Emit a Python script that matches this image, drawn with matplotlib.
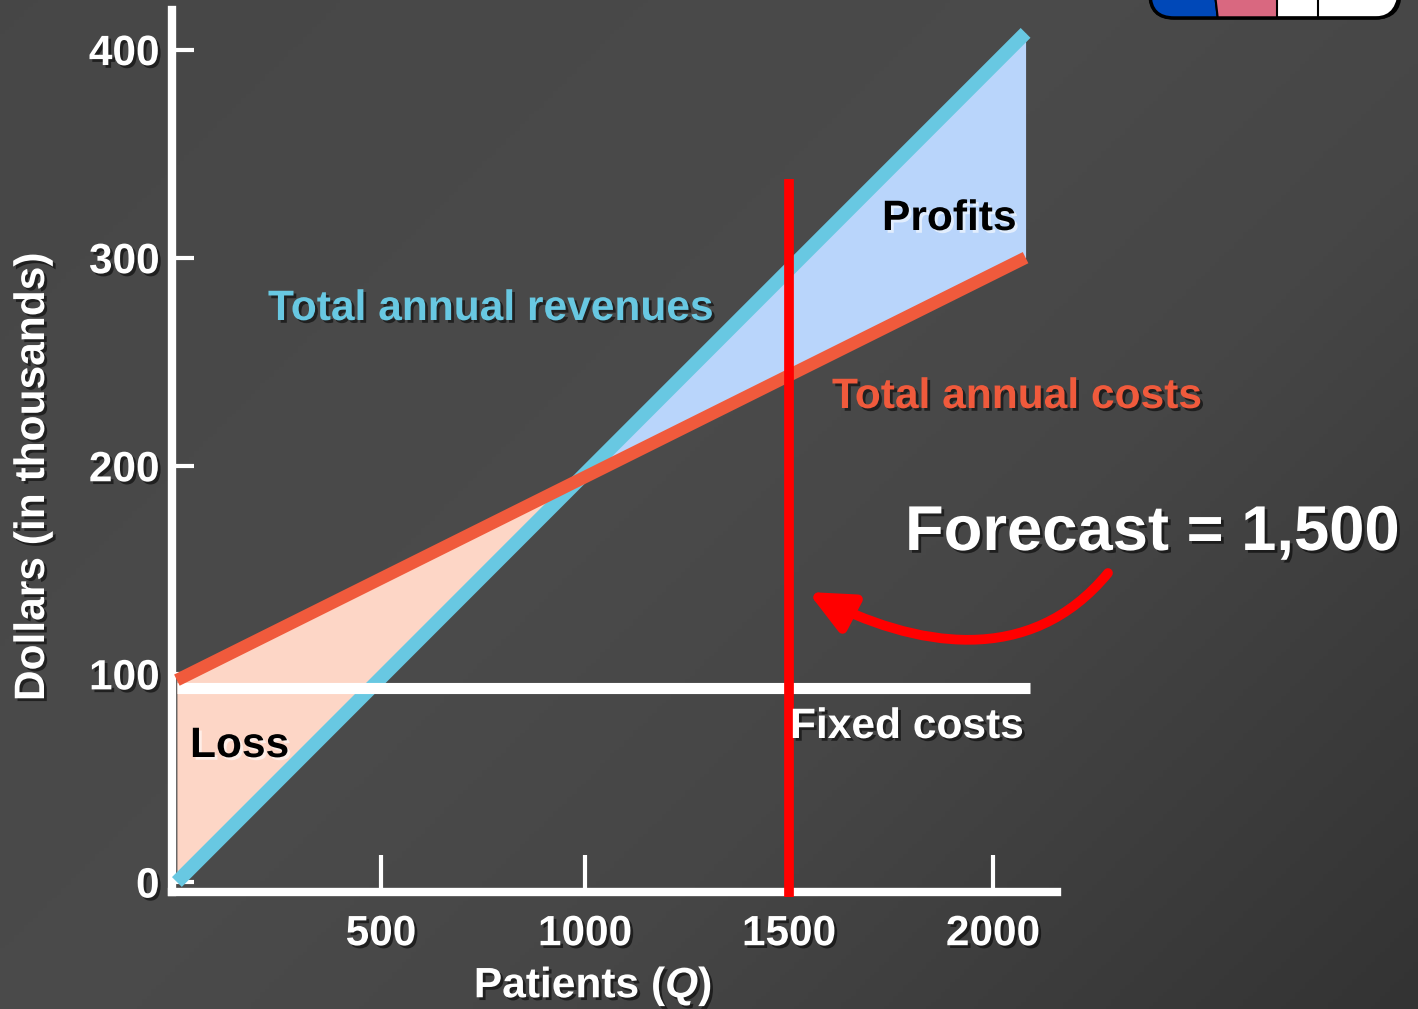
import numpy as np
import matplotlib
matplotlib.use('Agg')
import matplotlib.pyplot as plt
from matplotlib import patheffects as pe
from matplotlib.path import Path
from matplotlib.patches import FancyArrowPatch, FancyBboxPatch, Polygon
from matplotlib.transforms import Affine2D

# ---------------- data ----------------
patients_ticks = [500, 1000, 1500, 2000]
dollar_ticks = [0, 100, 200, 300, 400]
q_range = [0, 2080]          # patients
revenue = [0, 408]           # total annual revenues (thousands)
costs = [97, 300]            # total annual costs (thousands)
fixed_costs = 93             # fixed costs (thousands)
fixed_q_range = [0, 2090]
forecast = 1500
forecast_line = [-7, 338]

REV = '#68C8E2'
COST = '#F05A3C'
LOSS = '#FDD6C6'
PROFIT = '#B9D5FB'

plt.rcParams['font.family'] = ['Liberation Sans', 'DejaVu Sans']
plt.rcParams['font.weight'] = 'bold'
plt.rcParams['mathtext.fontset'] = 'custom'
plt.rcParams['mathtext.it'] = 'Liberation Sans:bold:italic'
plt.rcParams['mathtext.rm'] = 'Liberation Sans:bold'
plt.rcParams['mathtext.bf'] = 'Liberation Sans:bold'

W, H = 1418, 1009
fig = plt.figure(figsize=(W / 100, H / 100), dpi=100)
pix = Affine2D().scale(1 / W, -1 / H).translate(0, 1) + fig.transFigure

# background gradient (diagonal, dark toward bottom-right)
bg = fig.add_axes([0, 0, 1, 1], zorder=-10)
yy, xx = np.mgrid[0:H:300j, 0:W:300j]
d = (xx + yy) / (W + H)
val = np.interp(d, [0, 0.45, 0.65, 1.0], [0.278, 0.292, 0.275, 0.200])
bg.imshow(np.dstack([val, val, val]), aspect='auto', extent=[0, 1, 0, 1], origin='upper')
bg.set_axis_off()

shadow = [pe.withSimplePatchShadow(offset=(2, -2), shadow_rgbFace='black', alpha=0.55)]
light_shadow = [pe.withSimplePatchShadow(offset=(2, -2), shadow_rgbFace='white', alpha=0.6)]

# main axes
ax = fig.add_axes([172 / W, 1 - 892 / H, (1057 - 172) / W, (892 - 10) / H])
ax.set_xlim(-12, 2157)
ax.set_ylim(-4.8, 419)
ax.set_facecolor('none')
for s in ['top', 'right']:
    ax.spines[s].set_visible(False)
for s in ['left', 'bottom']:
    ax.spines[s].set_color('white')
    ax.spines[s].set_linewidth(6)
    ax.spines[s].set_capstyle('projecting')
ax.set_xticks(patients_ticks)
ax.set_yticks(dollar_ticks)
ax.tick_params(axis='x', direction='in', length=27, width=3, color='white',
               labelcolor='white', labelsize=30.5, pad=16)
ax.tick_params(axis='y', direction='in', length=16, width=3, color='white',
               labelcolor='white', labelsize=30.5, pad=9)
for lbl in ax.get_xticklabels() + ax.get_yticklabels():
    lbl.set_fontweight('bold')
    lbl.set_path_effects(shadow)

# fills
slope_r = (revenue[1] - revenue[0]) / (q_range[1] - q_range[0])
slope_c = (costs[1] - costs[0]) / (q_range[1] - q_range[0])
be = (costs[0] - revenue[0]) / (slope_r - slope_c)
qq = np.array([q_range[0], be, q_range[1]])
rq = np.interp(qq, q_range, revenue)
cq = np.interp(qq, q_range, costs)
ax.fill_between(qq, rq, cq, where=cq >= rq - 1e-9, interpolate=True, color=LOSS, lw=0, zorder=1)
ax.fill_between(qq, rq, cq, where=rq >= cq - 1e-9, interpolate=True, color=PROFIT, lw=0, zorder=1)

# lines
ax.plot(q_range, revenue, color=REV, lw=10, solid_capstyle='butt', zorder=4)
ax.plot(fixed_q_range, [fixed_costs, fixed_costs], color='white', lw=8,
        solid_capstyle='butt', zorder=4.2)
ax.plot(q_range, costs, color=COST, lw=9, solid_capstyle='butt', zorder=4.5)
ax.plot([forecast, forecast], forecast_line, color='#FF0000', lw=7,
        solid_capstyle='butt', zorder=6, clip_on=False)

# labels
def label(x, y, s, color, size=30.6, fx=shadow):
    t = fig.text(0, 0, s, transform=pix, ha='left', va='baseline', color=color,
                 fontsize=size, fontweight='bold')
    t.set_position((x, y))
    t.set_path_effects(fx)
    return t

label(268, 320, 'Total annual revenues', REV)
label(882, 230, 'Profits', 'black', fx=light_shadow)
label(832, 408, 'Total annual costs', COST)
label(905, 550, 'Forecast = 1,500', 'white', size=45.6)
label(790, 738, 'Fixed costs', 'white')
label(190, 757, 'Loss', 'black', fx=light_shadow)

xl = fig.text(593 / W, 1 - 987 / H, r'Patients ($\mathit{Q}$)', ha='center', va='center',
              color='white', fontsize=30.6, fontweight='bold')
xl.set_path_effects(shadow)
yl = fig.text(33 / W, 1 - 477 / H, 'Dollars (in thousands)', ha='center', va='center',
              rotation=90, color='white', fontsize=30.6, fontweight='bold')
yl.set_path_effects(shadow)

# curved arrow
verts = [(1108, 573), (1030, 668), (915, 648), (808, 592)]
arrow_path = Path(verts, [Path.MOVETO, Path.CURVE4, Path.CURVE4, Path.CURVE4])
arr = FancyArrowPatch(path=arrow_path, transform=pix, color='#FF0000', lw=7,
                      arrowstyle='-|>,head_length=2.6,head_width=1.2',
                      mutation_scale=10, shrinkA=0, shrinkB=0, zorder=10)
fig.add_artist(arr)

# logo in top right corner
box = FancyBboxPatch((1150, -40), 250, 58, boxstyle='round,pad=0,rounding_size=24',
                     transform=pix, facecolor='white', edgecolor='black', lw=2, zorder=20)
fig.add_artist(box)
blue = Polygon([(1140, -40), (1211, -40), (1218, 20), (1140, 20)], closed=True,
               transform=pix, facecolor='#0048B8', edgecolor='black', lw=1.5, zorder=21)
pink = Polygon([(1211, -40), (1277, -40), (1277, 20), (1218, 20)], closed=True,
               transform=pix, facecolor='#D96880', edgecolor='black', lw=1.5, zorder=21)
for p in (blue, pink):
    fig.add_artist(p)
    p.set_clip_path(box)
fig.add_artist(plt.Line2D([1318, 1318], [-40, 18], transform=pix, color='black', lw=1.5, zorder=22))
edge = FancyBboxPatch((1150, -40), 250, 58, boxstyle='round,pad=0,rounding_size=24',
                      transform=pix, facecolor='none', edgecolor='black', lw=2.5, zorder=23)
fig.add_artist(edge)

fig.savefig('out.png', dpi=100)
